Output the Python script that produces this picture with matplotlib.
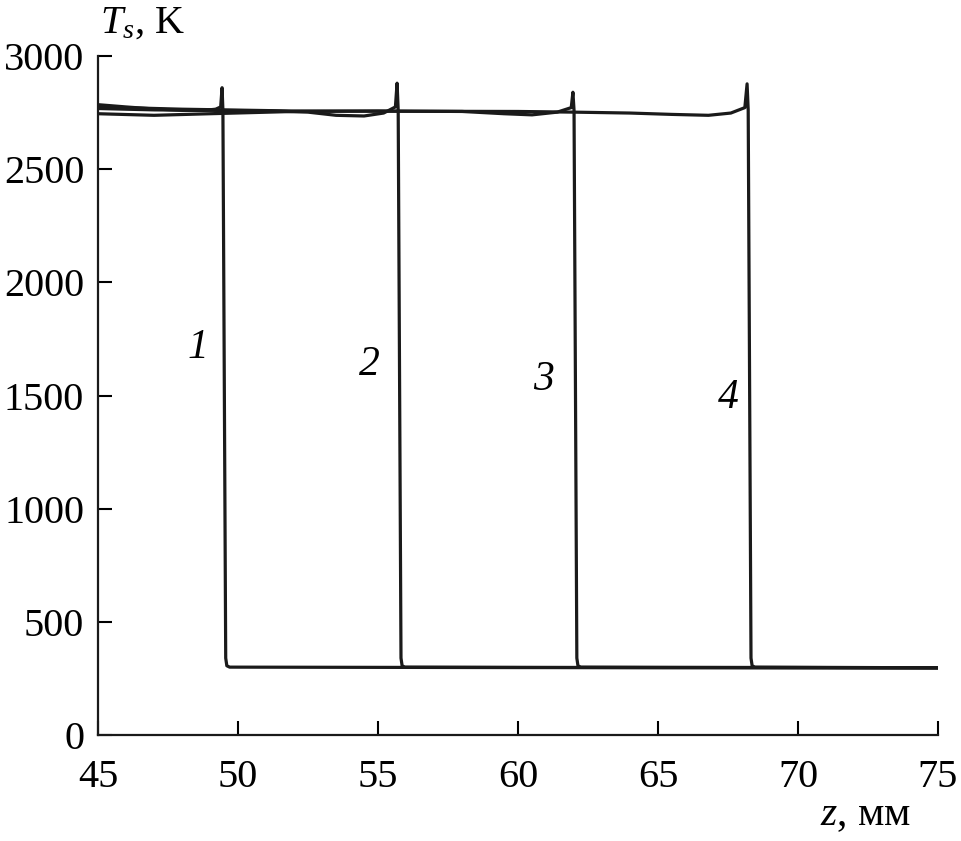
import matplotlib
matplotlib.use("Agg")
import matplotlib.pyplot as plt

plt.rcParams['font.family'] = ['Liberation Serif', 'DejaVu Serif']
plt.rcParams['mathtext.fontset'] = 'custom'
plt.rcParams['mathtext.rm'] = 'Liberation Serif'
plt.rcParams['mathtext.it'] = 'Liberation Serif:italic'

# Curve data (z in mm, Ts in K)
z1 = [45.0, 46.0, 47.0, 48.0, 48.8, 49.2, 49.38, 49.43, 49.46, 49.56, 49.6, 49.7, 60.0, 75.0]
T1 = [2785, 2775, 2766, 2760, 2760, 2765, 2775, 2860, 2760, 340, 306, 300, 298, 297]

z2 = [45.0, 47.0, 49.0, 51.0, 52.5, 53.5, 54.5, 55.2, 55.62, 55.68, 55.72, 55.82, 55.86, 55.96, 65.0, 75.0]
T2 = [2768, 2762, 2760, 2758, 2752, 2738, 2735, 2748, 2775, 2880, 2760, 340, 306, 300, 298, 297]

z3 = [45.0, 47.0, 49.0, 52.0, 55.0, 58.0, 59.5, 60.5, 61.4, 61.9, 61.96, 62.0, 62.1, 62.14, 62.24, 75.0]
T3 = [2745, 2738, 2745, 2755, 2757, 2755, 2745, 2740, 2752, 2772, 2840, 2760, 340, 306, 300, 297]

z4 = [45.0, 48.0, 52.0, 56.0, 60.0, 62.0, 64.0, 65.5, 66.8, 67.6, 68.1, 68.18, 68.22, 68.32, 68.36, 68.46, 75.0]
T4 = [2775, 2765, 2757, 2756, 2755, 2752, 2748, 2742, 2738, 2748, 2772, 2877, 2760, 340, 306, 300, 297]

curves = [(z1, T1), (z2, T2), (z3, T3), (z4, T4)]
labels = ["1", "2", "3", "4"]
label_z = [48.57, 54.7, 60.9, 67.5]
label_T = [1710, 1635, 1570, 1490]

xticks = [45, 50, 55, 60, 65, 70, 75]
yticks = [0, 500, 1000, 1500, 2000, 2500, 3000]

fig = plt.figure(figsize=(9.62, 8.41), dpi=100)
ax = fig.add_axes([0.1019, 0.126, 0.8732, 0.8074])

for z, T in curves:
    ax.plot(z, T, color='#1a1a1a', lw=2.3, solid_joinstyle='round')

for lab, lz, lt in zip(labels, label_z, label_T):
    ax.text(lz, lt, lab, fontsize=30, style='italic', ha='center', va='center')

ax.set_xlim(45, 75)
ax.set_ylim(0, 3000)
ax.set_xticks(xticks)
ax.set_yticks(yticks)
ax.tick_params(direction='in', length=10, width=1.5, labelsize=29)
ax.tick_params(axis='x', pad=17)
ax.tick_params(axis='y', pad=10)
for s in ['top', 'right']:
    ax.spines[s].set_visible(False)
for s in ['left', 'bottom']:
    ax.spines[s].set_linewidth(1.6)
    ax.spines[s].set_color('#1a1a1a')

fig.text(0.104, 0.972, r'$T_s$, K', fontsize=29, ha='left', va='center')
fig.text(0.852, 0.031, r'$z$, мм', fontsize=30, ha='left', va='center')

fig.savefig('out.png', dpi=100)
